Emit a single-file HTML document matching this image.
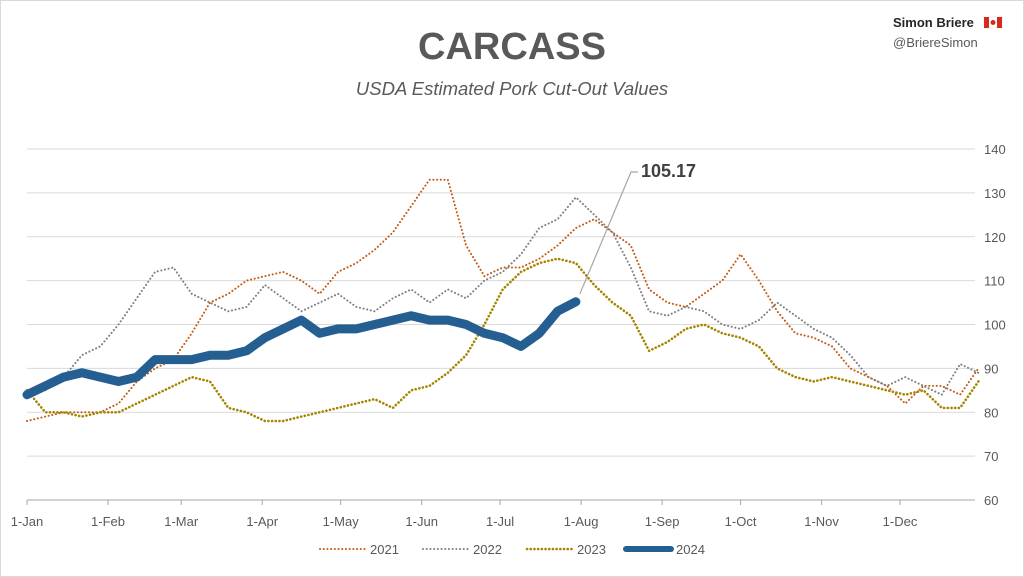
<!DOCTYPE html>
<html><head><meta charset="utf-8"><style>
body{margin:0;background:#fff;}
svg{display:block;font-family:"Liberation Sans",sans-serif;}
</style></head><body>
<svg id="chart" width="1024" height="577" viewBox="0 0 1024 577" xmlns="http://www.w3.org/2000/svg">
<rect x="0.5" y="0.5" width="1023" height="576" fill="#fff" stroke="#d9d9d9"/>
<text x="512" y="59" text-anchor="middle" font-size="38" font-weight="bold" fill="#595959">CARCASS</text>
<text x="512" y="95" text-anchor="middle" font-size="18.5" font-style="italic" fill="#595959">USDA Estimated Pork Cut-Out Values</text>
<text x="893" y="27" font-size="13" font-weight="bold" fill="#262626">Simon Briere</text>
<g><rect x="984" y="17" width="18" height="11" fill="#fff" stroke="#ddd" stroke-width="0.5"/><rect x="984" y="17" width="5" height="11" fill="#d52b1e"/><rect x="997" y="17" width="5" height="11" fill="#d52b1e"/><circle cx="993" cy="22.5" r="2.5" fill="#d52b1e"/></g>
<text x="893" y="47" font-size="13" fill="#595959">@BriereSimon</text>
<g id="grid"></g><g id="series"></g><g id="axes"></g><g id="legend"></g>
</svg>
<script>
const yTicks=[60,70,80,90,100,110,120,130,140];
const monthLabels=["1-Jan","1-Feb","1-Mar","1-Apr","1-May","1-Jun","1-Jul","1-Aug","1-Sep","1-Oct","1-Nov","1-Dec"];
const monthDays=[0,31,59,90,120,151,181,212,243,273,304,334];
const stepDays=7;
const s2021=[78,79,80,80,80,82,87,90,92,98,105,107,110,111,112,110,107,112,114,117,121,127,133,133,118,111,113,113,115,118,122,124,121,118,108,105,104,107,110,116,110,103,98,97,95,90,88,86,82,86,86,84,90];
const s2022=[85,85,88,93,95,100,106,112,113,107,105,103,104,109,106,103,105,107,104,103,106,108,105,108,106,110,112,116,122,124,129,125,121,113,103,102,104,103,100,99,101,105,102,99,97,93,88,86,88,86,84,91,89];
const s2023=[85,80,80,79,80,80,82,84,86,88,87,81,80,78,78,79,80,81,82,83,81,85,86,89,93,100,108,112,114,115,114,109,105,102,94,96,99,100,98,97,95,90,88,87,88,87,86,85,84,85,81,81,87];
const s2024=[84,86,88,89,88,87,88,92,92,92,93,93,94,97,99,101,98,99,99,100,101,102,101,101,100,98,97,95,98,103,105.17];
const lastLabel="105.17";
const NS="http://www.w3.org/2000/svg";
const X=d=>27+d*(873/334);
const Y=v=>500-(v-60)*(351/80);
function mk(t,a,p){const e=document.createElementNS(NS,t);for(const k in a)e.setAttribute(k,a[k]);p.appendChild(e);return e;}
const grid=document.getElementById('grid'),axes=document.getElementById('axes'),ser=document.getElementById('series'),leg=document.getElementById('legend');
yTicks.forEach(v=>{
 if(v>60){const l=mk('line',{x1:27,x2:975,y1:Y(v),y2:Y(v),stroke:'#d9d9d9','stroke-width':1},grid);
 
 }
 const t=mk('text',{x:984,y:Y(v)+5,'font-size':13,fill:'#595959'},axes);t.textContent=v;
 
 
});
const ax=mk('line',{x1:27,x2:975,y1:500,y2:500,stroke:'#a6a6a6','stroke-width':1},axes);


monthLabels.forEach((m,i)=>{
 const x=X(monthDays[i]);
 const tk=mk('line',{x1:x,x2:x,y1:500,y2:505,stroke:'#a6a6a6'},axes);
 
 
 const t=mk('text',{x:x,y:526,'text-anchor':'middle','font-size':13,fill:'#595959'},axes);t.textContent=m;
 
 
});
function path(arr){return arr.map((v,i)=>(i?'L':'M')+X(i*stepDays).toFixed(1)+','+Y(v).toFixed(1)).join(' ');}
const cfg=[[s2021,'#C55A11',2,'2021'],[s2022,'#7F7F7F',2,'2022'],[s2023,'#A68400',2.6,'2023']];
cfg.forEach(c=>{
 const p=mk('path',{d:path(c[0]),fill:'none',stroke:c[1],'stroke-width':c[2],'stroke-dasharray':'0.1 3.6','stroke-linecap':'round','stroke-linejoin':'round'},ser);
 
 
});
const p4=mk('path',{d:path(s2024),fill:'none',stroke:'#255E91','stroke-width':9,'stroke-linecap':'round','stroke-linejoin':'round'},ser);


const li=s2024.length-1, lx=X(li*stepDays), ly=Y(s2024[li]);
const cl=mk('polyline',{points:`${lx+4},${ly-8} 631,172 638,172`,fill:'none',stroke:'#a6a6a6','stroke-width':1.2},ser);


const lab=mk('text',{x:641,y:177,'font-size':18,'font-weight':'bold',fill:'#404040'},ser);lab.textContent=lastLabel;


const legItems=[['2021','#C55A11',2,320],['2022','#7F7F7F',2,423],['2023','#A68400',2.6,527],['2024','#255E91',6,626]];
legItems.forEach(it=>{
 const g=mk('g',{},leg);
 
 
 const a={x1:it[3],x2:it[3]+45,y1:549,y2:549,stroke:it[1],'stroke-width':it[2],'stroke-linecap':'round'};
 if(it[0]!=='2024')a['stroke-dasharray']='0.1 3.6';
 mk('line',a,g);
 const t=mk('text',{x:it[3]+50,y:554,'font-size':13,fill:'#595959'},g);t.textContent=it[0];
});
</script>
</body></html>
